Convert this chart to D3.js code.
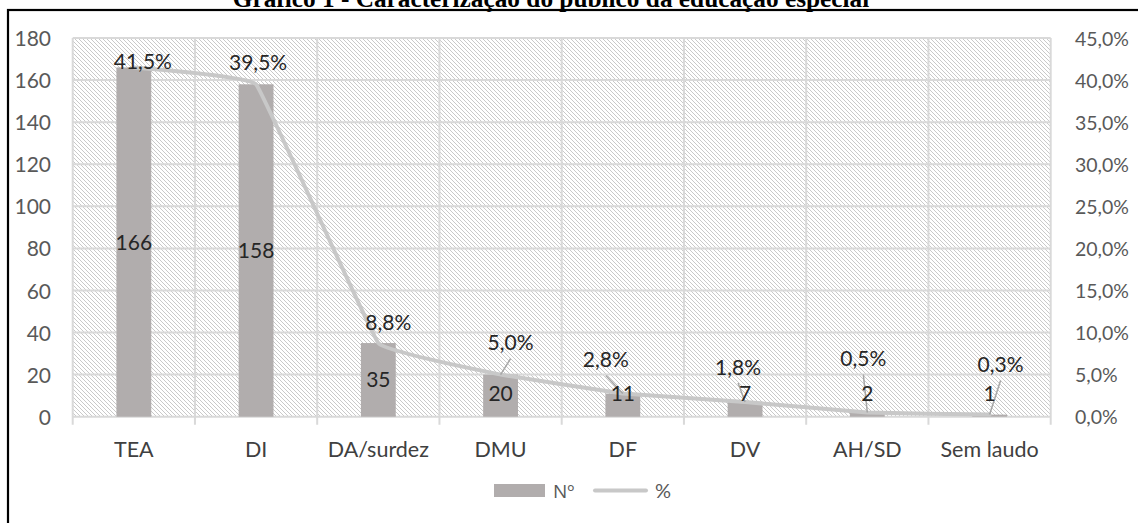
<!DOCTYPE html>
<html>
<head>
<meta charset="utf-8">
<script src="https://cdn.jsdelivr.net/npm/d3@7"></script>
<style>
  html, body { margin: 0; padding: 0; background: #fff; }
  svg { display: block; }
</style>
</head>
<body>
<svg id="chart" width="1138" height="523"></svg>
<script>
// ---- data ----
const categories = ["TEA", "DI", "DA/surdez", "DMU", "DF", "DV", "AH/SD", "Sem laudo"];
const counts = [166, 158, 35, 20, 11, 7, 2, 1];
const percents = [41.5, 39.5, 8.75, 5.0, 2.75, 1.75, 0.5, 0.25];
const leftTicks = [0, 20, 40, 60, 80, 100, 120, 140, 160, 180];
const rightTicks = [0, 5, 10, 15, 20, 25, 30, 35, 40, 45];
const seriesNames = ["Nº", "%"];
const titleText = "Gráfico 1 - Caracterização do público da educação especial";

// label offsets (layout: label centre relative to the line point)
const pctLabelDx = [9, 2, 10, 10, -17, -7, -4, 11];
const pctLabelDy = [-6, -22, -21, -32, -34, -35, -54, -50];

const fmtPct = v => v.toFixed(1).replace(".", ",") + "%";

const svg = d3.select("#chart");
const W = 1138, H = 523;
const plot = { left: 72.7, right: 1050.7, top: 38, bottom: 416.7 };

// pattern
const defs = svg.append("defs");
const pat = defs.append("pattern")
  .attr("id", "hatch").attr("patternUnits", "userSpaceOnUse")
  .attr("width", 4).attr("height", 4);
pat.append("rect").attr("width", 4).attr("height", 4).attr("fill", "#fff");
pat.append("path")
  .attr("d", "M-1,-1 L5,5 M-1,3 L1,5 M3,-1 L5,1")
  .attr("stroke", "#c9c9c9").attr("stroke-width", 1);

// border + title
svg.append("rect").attr("x", 8).attr("y", 10).attr("width", W + 20).attr("height", H + 20)
  .attr("fill", "none").attr("stroke", "#000").attr("stroke-width", 2.2);
svg.append("text").attr("x", 551).attr("y", 6.5).attr("text-anchor", "middle")
  .attr("font-family", "Liberation Serif, Times New Roman, serif").attr("font-weight", "bold")
  .attr("font-size", 25.3).attr("fill", "#000").text(titleText);

// scales
const x = d3.scaleBand().domain(categories).range([plot.left, plot.right]).padding(0);
const yL = d3.scaleLinear().domain([0, 180]).range([plot.bottom, plot.top]);
const yR = d3.scaleLinear().domain([0, 45]).range([plot.bottom, plot.top]);

// background hatch
svg.append("rect").attr("x", plot.left).attr("y", plot.top)
  .attr("width", plot.right - plot.left).attr("height", plot.bottom - plot.top)
  .attr("fill", "url(#hatch)");

// horizontal gridlines
svg.append("g").selectAll("line").data(leftTicks).join("line")
  .attr("x1", plot.left).attr("x2", plot.right)
  .attr("y1", d => yL(d)).attr("y2", d => yL(d))
  .attr("stroke", "#d9d9d9").attr("stroke-width", 2);

// vertical gridlines (category boundaries) with tick extension
const bounds = categories.map(c => x(c)).concat([x.range()[1]]);
svg.append("g").selectAll("line").data(bounds).join("line")
  .attr("x1", d => d).attr("x2", d => d)
  .attr("y1", plot.top).attr("y2", plot.bottom + 8)
  .attr("stroke", "#d9d9d9").attr("stroke-width", 2);

// axes text
const axisFont = "Lato, Open Sans, sans-serif";
const yAxisL = d3.axisLeft(yL).tickValues(leftTicks).tickSize(0).tickPadding(0);
const gL = svg.append("g").attr("transform", `translate(${51},0)`).call(yAxisL);
gL.select(".domain").remove();
gL.selectAll("text").attr("font-family", axisFont).attr("font-size", 21).attr("fill", "#595959").attr("dy", "0.36em");

const yAxisR = d3.axisRight(yR).tickValues(rightTicks).tickSize(0).tickPadding(0).tickFormat(d => fmtPct(d));
const gR = svg.append("g").attr("transform", `translate(${1075},0)`).call(yAxisR);
gR.select(".domain").remove();
gR.selectAll("text").attr("font-family", axisFont).attr("font-size", 19.5).attr("fill", "#595959").attr("dy", "0.36em");

const xAxis = d3.axisBottom(x).tickSize(0).tickPadding(0);
const gX = svg.append("g").attr("transform", `translate(0,${456.7})`).call(xAxis);
gX.select(".domain").remove();
gX.selectAll("text").attr("font-family", axisFont).attr("font-size", 21.5).attr("fill", "#404040").attr("dy", 0);

// bars
const barW = x.bandwidth() * 0.285;
const barColor = "#b1adad";
svg.append("g").selectAll("rect").data(counts).join("rect")
  .attr("x", (d, i) => x(categories[i]) + x.bandwidth() / 2 - barW / 2)
  .attr("y", d => yL(d)).attr("width", barW)
  .attr("height", d => yL(0) - yL(d)).attr("fill", barColor);

// line
const lineColor = "#c8c8c8";
const pts = percents.map((p, i) => [x(categories[i]) + x.bandwidth() / 2, yR(p)]);
const line = d3.line().curve(d3.curveCardinal.tension(0.82));
svg.append("path").attr("d", line(pts)).attr("fill", "none")
  .attr("stroke", lineColor).attr("stroke-width", 4).attr("stroke-linejoin", "round").attr("stroke-linecap", "round");

// leader lines + percent labels
const labelFont = "Lato, Open Sans, sans-serif";
const lab = pts.map((p, i) => ({ x: p[0] + pctLabelDx[i], y: p[1] + pctLabelDy[i], px: p[0], py: p[1], i }));
svg.append("g").selectAll("line").data(lab.filter(d => Math.hypot(d.x - d.px, d.y - d.py) > 28)).join("line")
  .attr("x1", d => d.x).attr("y1", d => d.y + 16)
  .attr("x2", d => d.px).attr("y2", d => d.py)
  .attr("stroke", "#a6a6a6").attr("stroke-width", 1.5);
svg.append("g").selectAll("text").data(lab).join("text")
  .attr("x", d => d.x).attr("y", d => d.y).attr("dy", "0.36em")
  .attr("text-anchor", "middle").attr("font-family", labelFont).attr("font-size", 21)
  .attr("fill", "#262626").text(d => fmtPct(percents[d.i]));

// count labels
svg.append("g").selectAll("text").data(counts).join("text")
  .attr("x", (d, i) => x(categories[i]) + x.bandwidth() / 2)
  .attr("y", d => Math.min((yL(d) + yL(0)) / 2, yL(11)))
  .attr("dy", "0.36em").attr("text-anchor", "middle")
  .attr("font-family", labelFont).attr("font-size", 21).attr("fill", "#262626")
  .text(d => d);

// legend
const lg = svg.append("g");
lg.append("rect").attr("x", 494).attr("y", 484).attr("width", 51).attr("height", 13).attr("fill", barColor);
lg.append("text").attr("x", 553).attr("y", 497.5).attr("font-family", "Open Sans, Lato, sans-serif").attr("font-size", 19)
  .attr("fill", "#595959").text(seriesNames[0]);
lg.append("line").attr("x1", 595).attr("x2", 646).attr("y1", 490.5).attr("y2", 490.5)
  .attr("stroke", lineColor).attr("stroke-width", 4).attr("stroke-linecap", "round");
lg.append("text").attr("x", 655).attr("y", 497.5).attr("font-family", axisFont).attr("font-size", 20)
  .attr("fill", "#595959").text(seriesNames[1]);
</script>
</body>
</html>
